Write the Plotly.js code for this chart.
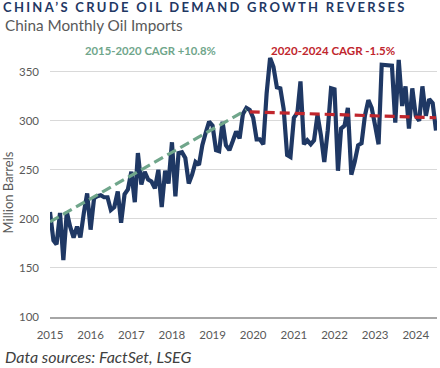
<!DOCTYPE html>
<html>
<head>
<meta charset="utf-8">
<script src="https://cdn.plot.ly/plotly-3.0.1.min.js"></script>
<style>
  html, body { margin: 0; padding: 0; background: #ffffff; }
  #chart { width: 440px; height: 368px; }
  .gtitle { letter-spacing: 2.3px; }
</style>
</head>
<body>
<div id="chart"></div>
<script>
// ---- data (million barrels per month) ----
const startYear = 2015;
const imports2015 = [207,178,174,206,158,207,192,181,192,181,206,226];
const imports2016 = [189,221,223,224,222,222,209,212,228,196,225,230];
const imports2017 = [248,217,267,235,248,240,238,231,250,212,249,236];
const imports2018 = [278,223,267,268,262,236,245,258,255,275,288,299];
const imports2019 = [295,270,269,299,275,270,279,289,282,307,313,311];
const imports2020 = [303,281,281,276,328,364,355,334,333,312,265,263];
const imports2021 = [303,308,340,276,280,276,280,306,285,258,290,333];
const imports2022 = [332,249,292,295,313,245,258,275,277,305,321,313];
const imports2023 = [295,276,357,357,356,356,298,362,315,335,292,333];
const imports2024 = [305,300,335,305,322,318,290];

const trendUpDates = ['2015-01-01', '2019-11-01'];
const trendUpValues = [197, 311];
const trendDownDates = ['2019-12-01', '2024-07-01'];
const trendDownValues = [309, 303];

const yTicks = [100, 150, 200, 250, 300, 350];

const titleText = 'CHINA’S CRUDE OIL DEMAND GROWTH REVERSES';
const subtitleText = 'China Monthly Oil Imports';
const yTitleText = 'Million Barrels';
const upLabel = '2015-2020 CAGR +10.8%';
const downLabel = '2020-2024 CAGR -1.5%';
const sourceText = 'Data sources: FactSet, LSEG';

// ---- build series ----
const yearly = [imports2015, imports2016, imports2017, imports2018, imports2019,
                imports2020, imports2021, imports2022, imports2023, imports2024];
const dates = [];
const values = [];
yearly.forEach((arr, yi) => {
  arr.forEach((v, mi) => {
    const mm = String(mi + 1).padStart(2, '0');
    dates.push((startYear + yi) + '-' + mm + '-01');
    values.push(v);
  });
});

const FONT = 'Lato, "Open Sans", sans-serif';
const NAVY = '#1f3864';
const GREEN = '#70a68b';
const RED = '#c0262d';
const GREY = '#595959';

const traces = [
  {
    x: dates, y: values, type: 'scatter', mode: 'lines',
    line: { color: NAVY, width: 4.2 }, hoverinfo: 'x+y'
  },
  {
    x: trendUpDates, y: trendUpValues, type: 'scatter', mode: 'lines',
    line: { color: GREEN, width: 3.2, dash: '10px,5px' }
  },
  {
    x: trendDownDates, y: trendDownValues, type: 'scatter', mode: 'lines',
    line: { color: RED, width: 3.2, dash: '10px,5px' }
  }
];

const layout = {
  width: 440, height: 368,
  margin: { l: 50, r: 3, t: 52, b: 51 },
  paper_bgcolor: '#ffffff', plot_bgcolor: '#ffffff',
  showlegend: false,
  font: { family: FONT, color: GREY },
  title: {
    text: '<b>' + titleText + '</b>',
    font: { family: FONT, size: 13, color: NAVY },
    xref: 'container', yref: 'container',
    x: 3 / 440, xanchor: 'left',
    y: 1 - 7.5 / 368, yanchor: 'middle'
  },
  xaxis: {
    type: 'date',
    range: ['2015-01-01', '2024-07-10'],
    tick0: '2015-01-01', dtick: 'M12', tickformat: '%Y',
    showgrid: false, zeroline: false,
    showline: true, linecolor: '#a6a6a6', linewidth: 1.5,
    ticks: '', ticklabelstandoff: 7,
    tickfont: { family: FONT, size: 11.5, color: GREY },
    fixedrange: true
  },
  yaxis: {
    range: [100, 370],
    tickvals: yTicks,
    showgrid: true, gridcolor: '#d9d9d9', gridwidth: 1,
    zeroline: false, showline: false,
    ticks: '', ticklabelstandoff: 10,
    tickfont: { family: FONT, size: 11.5, color: GREY },
    fixedrange: true
  },
  annotations: [
    {
      text: subtitleText, xref: 'paper', yref: 'paper',
      x: (3 - 50) / 387, xanchor: 'left',
      y: (317 - 25.5) / 264.6, yanchor: 'middle',
      showarrow: false,
      font: { family: FONT, size: 15.3, color: GREY }
    },
    {
      text: yTitleText, xref: 'paper', yref: 'paper',
      x: (8 - 50) / 387, xanchor: 'center',
      y: 0.47, yanchor: 'middle', textangle: -90,
      showarrow: false,
      font: { family: FONT, size: 13, color: GREY }
    },
    {
      text: '<b>' + upLabel + '</b>', xref: 'paper', yref: 'paper',
      x: (150 - 50) / 387, xanchor: 'center',
      y: (317 - 51) / 264.6, yanchor: 'middle',
      showarrow: false,
      font: { family: FONT, size: 11.3, color: GREEN }
    },
    {
      text: '<b>' + downLabel + '</b>', xref: 'paper', yref: 'paper',
      x: (333 - 50) / 387, xanchor: 'center',
      y: (317 - 51) / 264.6, yanchor: 'middle',
      showarrow: false,
      font: { family: FONT, size: 11.5, color: RED }
    },
    {
      text: '<i>' + sourceText + '</i>', xref: 'paper', yref: 'paper',
      x: (3 - 50) / 387, xanchor: 'left',
      y: (317 - 356) / 264.6, yanchor: 'middle',
      showarrow: false,
      font: { family: FONT, size: 16, color: '#404040' }
    }
  ]
};

Plotly.newPlot('chart', traces, layout, { displayModeBar: false, staticPlot: true });
</script>
</body>
</html>
